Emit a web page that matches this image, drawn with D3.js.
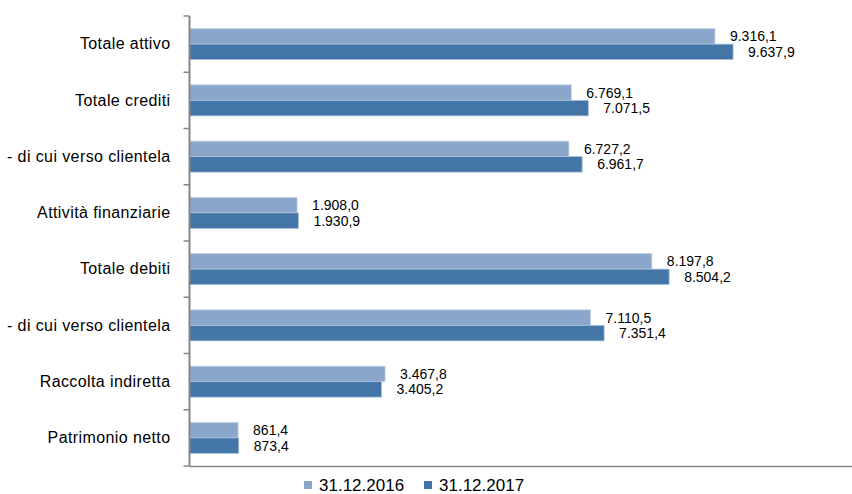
<!DOCTYPE html>
<html><head><meta charset="utf-8">
<script src="https://cdn.jsdelivr.net/npm/d3@7"></script>
<style>body{margin:0;background:#fff}svg{display:block}</style>
</head><body>
<svg id="c" width="852" height="494"></svg>
<script>
const categories = ["Totale attivo","Totale crediti","- di cui verso clientela","Attività finanziarie","Totale debiti","- di cui verso clientela","Raccolta indiretta","Patrimonio netto"];
const series2016 = [9316.1,6769.1,6727.2,1908.0,8197.8,7110.5,3467.8,861.4];
const series2017 = [9637.9,7071.5,6961.7,1930.9,8504.2,7351.4,3405.2,873.4];
const seriesNames = ["31.12.2016","31.12.2017"];
const colors = ["#8aa6cb","#4475a7"];

(function(){
const fmt = v => { const p = v.toFixed(1).split("."); return p[0].replace(/\B(?=(\d{3})+(?!\d))/g,".")+","+p[1]; };
const svg = d3.select("#c");
const font = "'Liberation Sans', Arial, sans-serif";
const pLeft = 189.5, pTop = 16, pBottom = 466;
const x = d3.scaleLinear().domain([0,10000]).range([pLeft, pLeft+564]);
const y = d3.scaleBand().domain(d3.range(categories.length)).range([pTop,pBottom]).paddingInner(0).paddingOuter(0);
const inner = d3.scaleBand().domain([0,1]).range([0, 31]);
const off = (y.bandwidth()-31)/2;
const series = [series2016, series2017];

const g = svg.append("g");
series.forEach((s,si)=>{
  g.selectAll(".b"+si).data(s).enter().append("rect")
    .attr("x", x(0)).attr("y",(d,i)=>y(i)+off+inner(si))
    .attr("width", d=>x(d)-x(0)).attr("height", inner.bandwidth())
    .attr("fill", colors[si]).attr("stroke", si===0?"#c3d1e6":"#a9c0dc").attr("stroke-width",0.8);
  g.selectAll(".l"+si).data(s).enter().append("text")
    .attr("x", d=>x(d)+15).attr("y",(d,i)=>y(i)+off+inner(si)+inner.bandwidth()/2)
    .attr("dy","0.35em").attr("font-family",font).attr("font-size",14).attr("fill","#000")
    .text(d=>fmt(d));
});

const yAxis = d3.axisLeft(y).tickSize(0).tickFormat(i=>categories[i]).tickPadding(19);
const ya = svg.append("g").attr("transform",`translate(${pLeft},0)`).call(yAxis);
ya.select(".domain").remove();
ya.selectAll("text").attr("font-family",font).attr("font-size",16).attr("letter-spacing","0.4px").attr("fill","#000");
svg.append("g").selectAll("line").data(d3.range(categories.length+1)).enter().append("line")
  .attr("x1",pLeft-6).attr("x2",pLeft).attr("y1",i=>pTop+i*y.step()).attr("y2",i=>pTop+i*y.step())
  .attr("stroke","#868686").attr("stroke-width",1.5);
svg.append("line").attr("x1",pLeft).attr("x2",pLeft).attr("y1",pTop).attr("y2",pBottom)
  .attr("stroke","#868686").attr("stroke-width",2);
svg.append("line").attr("x1",pLeft).attr("x2",852).attr("y1",pBottom+0.5).attr("y2",pBottom+0.5)
  .attr("stroke","#868686").attr("stroke-width",1.5);

const lx = [304, 424];
seriesNames.forEach((n,i)=>{
  svg.append("rect").attr("x",lx[i]).attr("y",481).attr("width",8).attr("height",8).attr("fill",colors[i]);
  svg.append("text").attr("x",lx[i]+15).attr("y",485).attr("dy","0.35em")
    .attr("font-family",font).attr("font-size",17).attr("fill","#000").text(n);
});
})();
</script>
</body></html>
